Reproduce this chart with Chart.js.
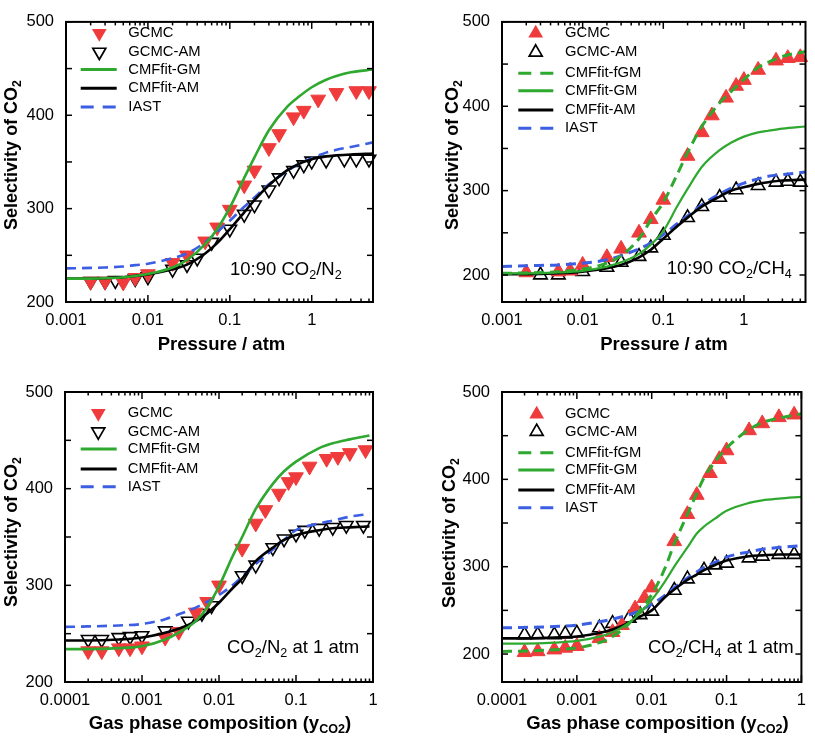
<!DOCTYPE html>
<html><head><meta charset="utf-8">
<script src="https://cdn.jsdelivr.net/npm/chart.js"></script>
<style>
html,body{margin:0;padding:0;background:#fff;}
#wrap{position:relative;width:815px;height:736px;overflow:hidden;background:#fff;}
canvas{position:absolute;}
</style></head><body>
<div id="wrap"></div>
<script>
// ---------- DATA ----------
// Panel 1: 10:90 CO2/N2 vs pressure
const p1GcmcX = [0.002,0.003,0.005,0.007,0.01,0.02,0.03,0.05,0.07,0.1,0.15,0.2,0.3,0.4,0.6,0.8,1.2,2,3.5,5];
const p1GcmcY = [222,222,221,226,230,242,250,265,280,299,325,341,365,380,398,405,417,424,426,426];
const p1AmX = [0.002,0.003,0.004,0.007,0.01,0.02,0.03,0.04,0.06,0.1,0.15,0.2,0.3,0.4,0.6,0.8,1,1.5,2.5,3.5,5];
const p1AmY = [222,222,223,225,227,235,240,247,264,278,294,304,320,333,341,347,351,352,353,353,353];
const p1CurveX = [0.001,0.002,0.003,0.005,0.007,0.01,0.02,0.03,0.05,0.07,0.1,0.15,0.2,0.3,0.5,0.7,1,1.5,2,3,5.6];
const p1FitGM = [225,225,225.5,226.5,228,230,237,245,262,278,301,333,355,384,409,420,430,438,442,446,449];
const p1FitAM = [225,225,225.5,226.5,228,229.5,235,240,252,263,278,296,309,325,341,348,353,356,357,358,359];
const p1Iast = [236,236.5,237,238,239.5,241,247,252,264,275,287,302,312,326,340,348,354,360,363,366,371];

// Panel 2: 10:90 CO2/CH4 vs pressure
const p2GcmcX = [0.002,0.005,0.007,0.01,0.02,0.03,0.05,0.07,0.1,0.2,0.3,0.4,0.6,0.8,1,1.5,2.5,3.5,5];
const p2GcmcY = [203,204,205,212,221,231,250,266,289,341,369,389,410,424,431,443,454,457,458];
const p2AmX = [0.003,0.005,0.01,0.02,0.03,0.05,0.07,0.1,0.2,0.3,0.5,0.8,1.5,2.5,3.5,5];
const p2AmY = [200,200,204,209,215,222,232,247,268,281,292,301,306,310,311,310];
const p2CurveX = [0.001,0.002,0.005,0.01,0.02,0.03,0.05,0.07,0.1,0.15,0.2,0.3,0.5,0.7,1,1.5,2,3,5.8];
const p2FitFGM = [202,202.5,204,207,214,223,243,265,286,320,345,376,404,418,432,446,452,459,465];
const p2FitGM = [202,202,203,205,210,215,225,236,252,282,302,328,348,357,364,369,371,373.5,376];
const p2FitAM = [201,201,202,204,208,212,221,230,243,258,268,281,293,300,304,308,310,312,313];
const p2Iast = [210,211,212,214,218,223,231,238,248,261,270,283,296,303,309,314,317,319,322];

// Panel 3: CO2/N2 at 1 atm vs gas phase composition
const p3GcmcX = [0.0002,0.0003,0.0005,0.0007,0.001,0.002,0.003,0.005,0.007,0.01,0.02,0.03,0.04,0.06,0.08,0.1,0.15,0.25,0.35,0.5,0.8];
const p3GcmcY = [232,232,235,235,237,246,252,272,283,300,338,364,378,395,407,412,423,431,433,437,440];
const p3AmX = [0.0002,0.0003,0.0005,0.0007,0.001,0.002,0.004,0.006,0.008,0.02,0.03,0.05,0.07,0.1,0.13,0.2,0.3,0.45,0.75];
const p3AmY = [244,244,246,247,248,253,263,271,279,310,321,339,348,353,357,359,360,362,362];
const p3CurveX = [0.0001,0.0002,0.0005,0.001,0.002,0.003,0.005,0.007,0.01,0.015,0.02,0.03,0.05,0.07,0.1,0.2,0.3,0.5,0.9];
const p3FitGM = [234,234,235,237,244,251,263,277,299,330,350,379,405,418,428,442,447,451,455];
const p3FitAM = [243,243,244,246,251,255,263,271,282,297,307,325,339,347,352,357,359,360,361];
const p3Iast = [257,257.5,258.5,260,265,270,277,283,290,300,309,322,337,347,357,364,367,371,374];

// Panel 4: CO2/CH4 at 1 atm vs gas phase composition
const p4GcmcX = [0.0002,0.0003,0.0005,0.0007,0.001,0.002,0.003,0.004,0.006,0.008,0.01,0.02,0.03,0.04,0.06,0.08,0.1,0.2,0.3,0.5,0.8];
const p4GcmcY = [202,203,205,207,209,218,225,233,252,264,276,329,360,382,407,423,433,456,464,471,474];
const p4AmX = [0.0002,0.0003,0.0005,0.0007,0.001,0.002,0.003,0.005,0.007,0.01,0.02,0.03,0.05,0.07,0.1,0.2,0.3,0.5,0.8];
const p4AmY = [222,222,222,223,224,230,235,241,245,249,273,286,296,302,304,310,312,314,314];
const p4CurveX = [0.0001,0.0002,0.0005,0.001,0.002,0.003,0.005,0.007,0.01,0.015,0.02,0.03,0.04,0.05,0.07,0.1,0.2,0.3,0.5,1];
const p4FitFGM = [203,203.5,205,207,213,220,235,250,268,298,326,360,384,402,420,436,457,465,470,475];
const p4FitGM = [212,212,213,215,220,225,236,247,262,283,300,322,338,346,355,364,373,376,378,380];
const p4FitAM = [218,218,219,220,224,228,236,243,250,265,274,285,291,296,302,307,312,313,314,314];
const p4Iast = [230,230.5,231.5,233,237,240,245,250,257,267,276,287,294,299,305,311,317,320,322,324];

// Tick values and labels
const pressureTicks = [0.001,0.01,0.1,1];
const pressureTickLabels = ['0.001','0.01','0.1','1'];
const compTicks = [0.0001,0.001,0.01,0.1,1];
const compTickLabels = ['0.0001','0.001','0.01','0.1','1'];
const yTicks = [200,300,400,500];
const yTickLabels = ['200','300','400','500'];

// ---------- STYLE ----------
const FONT = "'Liberation Sans', Arial, Helvetica, sans-serif";
const RED = '#ef3b3b', GREEN = '#2ea82e', BLUE = '#3c5ee2', BLACK = '#000000';

function pts(xs, ys){ return xs.map((x,i)=>({x:x, y:ys[i]})); }
function markerDS(label, xs, ys, down, filled){
  return {label, data:pts(xs,ys), showLine:false, order:2, clip:false,
    pointStyle:'triangle', pointRotation: down?180:0,
    pointRadius: filled?8.5:7.8, pointHoverRadius: filled?8.5:7.8,
    pointBackgroundColor: filled?RED:'rgba(255,255,255,0)',
    pointBorderColor: filled?RED:BLACK, pointBorderWidth: filled?1:1.6,
    borderColor: filled?RED:BLACK, backgroundColor: filled?RED:'rgba(0,0,0,0)',
    _kind:'marker', _down:down, _filled:filled};
}
function lineDS(label, xs, ys, color, dash, width){
  return {label, data:pts(xs,ys), borderColor:color, backgroundColor:color,
    borderWidth: width||2.6, borderDash: dash?[10,6]:[], pointRadius:0, pointHoverRadius:0,
    cubicInterpolationMode:'monotone', fill:false, order:1,
    _kind:'line', _dash:dash};
}

const SUB = true;
const panels = [
  {left:0, top:0, w:405, h:368, area:{l:66,t:12,r:373,b:302},
   xMin:0.001, xMax:5.6, yMin:200, yMax:500, xTicks:pressureTicks, xLabels:pressureTickLabels,
   datasets:[
     markerDS('GCMC', p1GcmcX, p1GcmcY, true, true),
     markerDS('GCMC-AM', p1AmX, p1AmY, true, false),
     lineDS('CMFfit-GM', p1CurveX, p1FitGM, GREEN, false),
     lineDS('CMFfit-AM', p1CurveX, p1FitAM, BLACK, false),
     lineDS('IAST', p1CurveX, p1Iast, BLUE, true)],
   legend:{mx:99.3, tx:128.3, lx0:80.7, lx1:116.7, rows:[33.3,52,69.5,88.3,107]},
   note:{x:230, y:275, parts:[['10:90 CO'],['2',SUB],['/N'],['2',SUB]]},
   xTitle:{x:221.5, y:350, parts:[['Pressure / atm']]},
   yTitle:{x:17, y:155}},
  {left:405, top:0, w:410, h:368, area:{l:97,t:12,r:405,b:302},
   xMin:0.001, xMax:5.8, yMin:168, yMax:500, xTicks:pressureTicks, xLabels:pressureTickLabels,
   datasets:[
     markerDS('GCMC', p2GcmcX, p2GcmcY, false, true),
     markerDS('GCMC-AM', p2AmX, p2AmY, false, false),
     lineDS('CMFfit-fGM', p2CurveX, p2FitFGM, GREEN, true, 3),
     lineDS('CMFfit-GM', p2CurveX, p2FitGM, GREEN, false, 2.2),
     lineDS('CMFfit-AM', p2CurveX, p2FitAM, BLACK, false),
     lineDS('IAST', p2CurveX, p2Iast, BLUE, true, 3)],
   legend:{mx:130.7, tx:160, lx0:113.3, lx1:148.3, rows:[33.3,52.3,73.3,90.7,110,128.3]},
   note:{x:261.7, y:274, parts:[['10:90 CO'],['2',SUB],['/CH'],['4',SUB]]},
   xTitle:{x:259, y:350, parts:[['Pressure / atm']]},
   yTitle:{x:53, y:155}},
  {left:0, top:368, w:405, h:368, area:{l:65,t:24,r:373,b:314},
   xMin:0.0001, xMax:1, yMin:200, yMax:500, xTicks:compTicks, xLabels:compTickLabels,
   datasets:[
     markerDS('GCMC', p3GcmcX, p3GcmcY, true, true),
     markerDS('GCMC-AM', p3AmX, p3AmY, true, false),
     lineDS('CMFfit-GM', p3CurveX, p3FitGM, GREEN, false),
     lineDS('CMFfit-AM', p3CurveX, p3FitAM, BLACK, false),
     lineDS('IAST', p3CurveX, p3Iast, BLUE, true)],
   legend:{mx:98.3, tx:127.7, lx0:80.7, lx1:116.7, rows:[45.3,63.7,81,101,118.7]},
   note:{x:227, y:285, parts:[['CO'],['2',SUB],['/N'],['2',SUB],[' at 1 atm']]},
   xTitle:{x:220, y:361, parts:[['Gas phase composition (y'],['CO2',SUB],[')']]},
   yTitle:{x:17, y:164}},
  {left:405, top:368, w:410, h:368, area:{l:97,t:24,r:405,b:314},
   xMin:0.0001, xMax:1, yMin:168, yMax:500, xTicks:compTicks, xLabels:compTickLabels,
   datasets:[
     markerDS('GCMC', p4GcmcX, p4GcmcY, false, true),
     markerDS('GCMC-AM', p4AmX, p4AmY, false, false),
     lineDS('CMFfit-fGM', p4CurveX, p4FitFGM, GREEN, true, 3),
     lineDS('CMFfit-GM', p4CurveX, p4FitGM, GREEN, false, 2.2),
     lineDS('CMFfit-AM', p4CurveX, p4FitAM, BLACK, false),
     lineDS('IAST', p4CurveX, p4Iast, BLUE, true, 3)],
   legend:{mx:131.7, tx:160, lx0:113.3, lx1:149.3, rows:[46.3,63.7,84.7,102,122,139.7]},
   note:{x:243, y:285, parts:[['CO'],['2',SUB],['/CH'],['4',SUB],[' at 1 atm']]},
   xTitle:{x:252.5, y:361, parts:[['Gas phase composition (y'],['CO2',SUB],[')']]},
   yTitle:{x:49.5, y:165}}
];

// ---------- HELPERS ----------
function fontStr(size, bold){ return (bold?'bold ':'') + size + 'px ' + FONT; }
function richWidth(ctx, parts, size, bold){
  let w = 0;
  parts.forEach(p=>{ ctx.font = fontStr(p[1]?size*0.68:size, bold); w += ctx.measureText(p[0]).width; });
  return w;
}
function drawRich(ctx, parts, x, y, size, bold, align){
  const w = richWidth(ctx, parts, size, bold);
  let cx = align==='center' ? x - w/2 : x;
  ctx.textAlign = 'left'; ctx.textBaseline = 'alphabetic'; ctx.fillStyle = '#000';
  parts.forEach(p=>{
    const s = p[1]?size*0.68:size;
    ctx.font = fontStr(s, bold);
    ctx.fillText(p[0], cx, p[1] ? y + size*0.24 : y);
    cx += ctx.measureText(p[0]).width;
  });
}
function triPath(ctx, x, y, r, down){
  const s = down ? -1 : 1;
  ctx.beginPath();
  ctx.moveTo(x, y - s*r);
  ctx.lineTo(x + 0.866*r, y + s*0.5*r);
  ctx.lineTo(x - 0.866*r, y + s*0.5*r);
  ctx.closePath();
}

const framePlugin = {
  id:'frameTicks',
  afterDatasetsDraw(chart){
    const {ctx, chartArea:a, scales} = chart;
    const xs = scales.x, ys = scales.y;
    ctx.save();
    ctx.strokeStyle = '#000'; ctx.lineWidth = 1.5; ctx.setLineDash([]);
    const seg = (x0,y0,x1,y1)=>{ ctx.beginPath(); ctx.moveTo(x0,y0); ctx.lineTo(x1,y1); ctx.stroke(); };
    const e0 = Math.floor(Math.log10(xs.min)), e1 = Math.ceil(Math.log10(xs.max));
    for (let e=e0; e<=e1; e++){
      for (let m=1; m<=9; m++){
        const v = m*Math.pow(10,e);
        if (v < xs.min*0.999 || v > xs.max*1.001) continue;
        const px = xs.getPixelForValue(v);
        const len = m===1 ? 7 : 3.5;
        seg(px, a.bottom, px, a.bottom-len);
        seg(px, a.top, px, a.top+len);
      }
    }
    for (let v=Math.ceil(ys.min/50)*50; v<=ys.max; v+=50){
      const py = ys.getPixelForValue(v);
      seg(a.left, py, a.left+6, py);
      seg(a.right, py, a.right-6, py);
    }
    ctx.lineWidth = 2;
    ctx.strokeRect(a.left, a.top, a.right-a.left, a.bottom-a.top);
    ctx.restore();
  }
};

const decorPlugin = {
  id:'decor',
  afterDraw(chart){
    const P = chart.options.plugins.decor.panel;
    const ctx = chart.ctx;
    ctx.save();
    // legend
    const L = P.legend;
    chart.data.datasets.forEach((ds,i)=>{
      const y = L.rows[i];
      if (ds._kind === 'marker'){
        triPath(ctx, L.mx, y, ds._filled?8.5:7.5, ds._down);
        if (ds._filled){ ctx.fillStyle = RED; ctx.fill(); }
        else { ctx.strokeStyle = BLACK; ctx.lineWidth = 1.7; ctx.stroke(); }
      } else {
        ctx.strokeStyle = ds.borderColor; ctx.lineWidth = 3;
        ctx.setLineDash(ds._dash ? [13,9] : []);
        ctx.beginPath(); ctx.moveTo(L.lx0, y); ctx.lineTo(L.lx1, y); ctx.stroke();
        ctx.setLineDash([]);
      }
      ctx.fillStyle = '#000'; ctx.font = fontStr(14.8,false);
      ctx.textAlign = 'left'; ctx.textBaseline = 'middle';
      ctx.fillText(ds.label, L.tx, y);
    });
    // note
    drawRich(ctx, P.note.parts, P.note.x, P.note.y, 18.5, false, 'left');
    // x title
    drawRich(ctx, P.xTitle.parts, P.xTitle.x, P.xTitle.y, 18.5, true, 'center');
    // y title
    ctx.translate(P.yTitle.x, P.yTitle.y);
    ctx.rotate(-Math.PI/2);
    drawRich(ctx, [['Selectivity of CO'],['2',SUB]], 0, 0, 18, true, 'center');
    ctx.restore();
  }
};

const wrap = document.getElementById('wrap');
panels.forEach((P, idx)=>{
  const cv = document.createElement('canvas');
  cv.width = P.w; cv.height = P.h;
  cv.style.left = P.left + 'px'; cv.style.top = P.top + 'px';
  cv.style.width = P.w + 'px'; cv.style.height = P.h + 'px';
  wrap.appendChild(cv);
  const yW = P.area.l, xH = P.h - P.area.b;
  new Chart(cv, {
    type:'line',
    data:{datasets:P.datasets},
    options:{
      responsive:false, animation:false, events:[], devicePixelRatio:1,
      layout:{padding:{left:0, top:P.area.t, right:P.w - P.area.r, bottom:0}},
      plugins:{legend:{display:false}, tooltip:{enabled:false}, decor:{panel:P}},
      scales:{
        x:{type:'logarithmic', min:P.xMin, max:P.xMax,
           grid:{display:false, drawTicks:false}, border:{display:false},
           afterBuildTicks:(s)=>{ s.ticks = P.xTicks.map(v=>({value:v})); },
           afterFit:(s)=>{ s.height = xH; },
           ticks:{color:'#000', font:{family:FONT, size:16.5}, padding:9, maxRotation:0, minRotation:0, autoSkip:false,
                  callback:(v,i)=>P.xLabels[i]}},
        y:{type:'linear', min:P.yMin, max:P.yMax,
           grid:{display:false, drawTicks:false}, border:{display:false},
           afterBuildTicks:(s)=>{ s.ticks = yTicks.map(v=>({value:v})); },
           afterFit:(s)=>{ s.width = yW; },
           ticks:{color:'#000', font:{family:FONT, size:16.5}, padding:12,
                  callback:(v,i)=>yTickLabels[i]}}
      }
    },
    plugins:[framePlugin, decorPlugin]
  });
});
</script>
</body></html>
